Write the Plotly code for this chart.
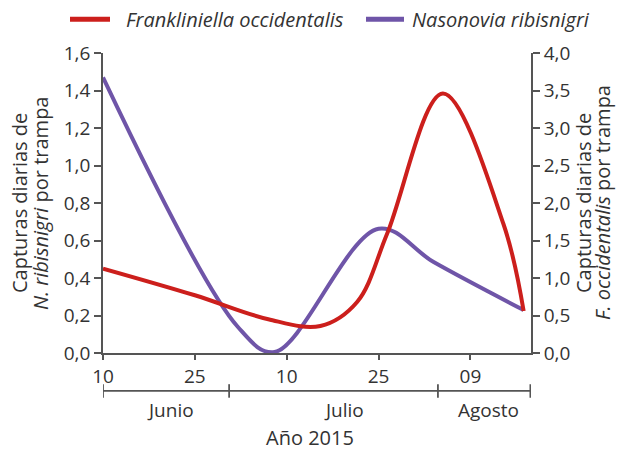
import plotly.graph_objects as go

# x positions: days since 10 June 2015
tick_days = [0, 15, 30, 45, 60]
tick_labels = ["10", "25", "10", "25", "09"]

month_edges = [0, 20.6, 54.7, 69.8]
month_names = ["Junio", "Julio", "Agosto"]
month_label_days = [11.0, 39.3, 62.9]

# Nasonovia ribisnigri (left axis)
nr_days = [0, 22, 28, 45, 54, 68.7]
nr_vals = [1.47, 0.14, 0.005, 0.663, 0.485, 0.229]

# Frankliniella occidentalis (right axis)
fo_days = [0, 15, 27, 35.5, 41.5, 46.4, 55.5, 65.4, 68.7]
fo_vals = [1.126, 0.77, 0.45, 0.36, 0.68, 1.59, 3.46, 1.72, 0.56]

series_names = ["Frankliniella occidentalis", "Nasonovia ribisnigri"]

RED = "#cc1f1c"
PURPLE = "#6f55a8"
AX = "#555555"
TXT = "#333333"
FONT = "Open Sans"

fig = go.Figure()
fig.add_trace(go.Scatter(
    x=fo_days, y=fo_vals, yaxis="y2", mode="lines",
    line=dict(color=RED, width=4, shape="spline", smoothing=1.0),
    name=series_names[0], showlegend=False))
fig.add_trace(go.Scatter(
    x=nr_days, y=nr_vals, mode="lines",
    line=dict(color=PURPLE, width=4, shape="spline", smoothing=1.0),
    name=series_names[1], showlegend=False))

def px_x(p):
    return (p - 103) / 428

def px_y(p):
    return (353 - p) / 300.3

shapes = []
bar_y = -0.1265
shapes.append(dict(type="line", xref="x", yref="paper",
                   x0=month_edges[0], x1=month_edges[-1], y0=bar_y, y1=bar_y,
                   line=dict(color=AX, width=1.8)))
for e in month_edges:
    shapes.append(dict(type="line", xref="x", yref="paper",
                       x0=e, x1=e, y0=-0.104, y1=-0.149,
                       line=dict(color=AX, width=1.8)))

annotations = []
# legend drawn in the top margin
leg_y = px_y(19)
for (s0, s1, t0), nm, col in zip([(70, 110, 124), (366, 404, 410)], series_names, [RED, PURPLE]):
    shapes.append(dict(type="line", xref="paper", yref="paper",
                       x0=px_x(s0), x1=px_x(s1), y0=leg_y, y1=leg_y,
                       line=dict(color=col, width=5)))
    annotations.append(dict(text="<i>" + nm + "</i>", x=px_x(t0), xref="paper",
                            y=leg_y, yref="paper", xanchor="left", yanchor="middle",
                            showarrow=False, font=dict(size=20, color=TXT, family=FONT)))

for nm, d in zip(month_names, month_label_days):
    annotations.append(dict(text=nm, x=d, xref="x", y=-0.19, yref="paper",
                            showarrow=False, yanchor="middle",
                            font=dict(size=19, color=TXT, family=FONT)))
annotations.append(dict(text="Año 2015", x=0.484, xref="paper", y=-0.283, yref="paper",
                        showarrow=False, yanchor="middle",
                        font=dict(size=20, color=TXT, family=FONT)))
# axis titles
left_title = ["Capturas diarias de", "<i>N. ribisnigri</i> por trampa"]
right_title = ["Capturas diarias de", "<i>F. occidentalis</i> por trampa"]
for txt, px in zip(left_title, [19, 40]):
    annotations.append(dict(text=txt, x=px_x(px), xref="paper", y=0.5, yref="paper",
                            textangle=-90, showarrow=False, xanchor="center", yanchor="middle",
                            font=dict(size=20, color=TXT, family=FONT)))
for txt, px in zip(right_title, [583, 602]):
    annotations.append(dict(text=txt, x=px_x(px), xref="paper", y=0.5, yref="paper",
                            textangle=-90, showarrow=False, xanchor="center", yanchor="middle",
                            font=dict(size=20, color=TXT, family=FONT)))

fig.update_layout(
    width=617, height=451,
    margin=dict(l=103, r=86, t=53, b=98),
    paper_bgcolor="white", plot_bgcolor="white",
    separators=",.",
    font=dict(family=FONT, color=TXT),
    showlegend=False,
    xaxis=dict(range=[0, 69.9], tickvals=tick_days, ticktext=tick_labels,
               showline=True, linecolor=AX, linewidth=1.8, ticks="outside",
               ticklen=5, tickwidth=1.8, tickcolor=AX, showgrid=False, zeroline=False,
               tickfont=dict(size=19, color=TXT, family=FONT)),
    yaxis=dict(range=[0, 1.6], dtick=0.2, tickformat=".1f",
               showline=True, linecolor=AX, linewidth=1.8, ticks="outside",
               ticklen=7, tickwidth=1.8, tickcolor=AX, showgrid=False, zeroline=False,
               tickfont=dict(size=19, color=TXT, family=FONT)),
    yaxis2=dict(range=[0, 4.0], dtick=0.5, tickformat=".1f", overlaying="y", side="right",
                showline=True, linecolor=AX, linewidth=1.8, ticks="outside",
                ticklen=7, tickwidth=1.8, tickcolor=AX, showgrid=False, zeroline=False,
                tickfont=dict(size=19, color=TXT, family=FONT)),
    shapes=shapes, annotations=annotations,
)
fig.write_html("out.html")
